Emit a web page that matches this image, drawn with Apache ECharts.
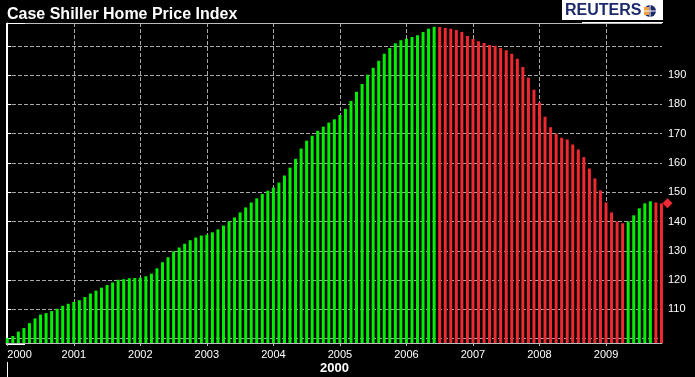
<!DOCTYPE html>
<html>
	<head>
		<meta charset="utf-8" />
		<script type="text/javascript" src="https://cdn.jsdelivr.net/npm/echarts@6/dist/echarts.min.js"></script>
		<title>Case Shiller Home Price Index</title>
		<style>
			html, body { margin: 0; padding: 0; background: #000; }
		</style>
	</head>
	<body>
		<div id="chartmain" style="width:695px; height: 377px;"></div>
		<script type="text/javascript">
// monthly index, Jan 2000 .. Nov 2009
var yearLabels = ['2000', '2001', '2002', '2003', '2004', '2005', '2006', '2007', '2008', '2009'];
var valuesBoom = [
  100.2, 100.9, 102.4, 103.6, 105.3, 106.9, 108.2, 108.7, 109.4, 110.2, 111.2, 111.9,
  112.5, 113.1, 114.2, 115.4, 116.4, 117.4, 118.3, 119.2, 120.1, 120.3, 120.6, 120.7,
  120.8, 121.3, 122.2, 124.0, 126.1, 127.8, 129.8, 131.1, 132.4, 133.6, 134.5, 135.2,
  135.5, 136.3, 137.3, 138.6, 140.0, 141.4, 143.1, 144.8, 146.5, 147.9, 149.4, 150.5,
  151.6, 153.3, 155.7, 158.4, 161.4, 164.9, 167.6, 169.3, 171.0, 172.4, 173.8, 174.9,
  176.4, 178.5, 181.2, 184.3, 187.0, 190.1, 192.5, 194.9, 197.3, 199.3, 200.9, 201.9,
  202.4, 203.0, 203.6, 204.7, 205.8, 206.5
];
var valuesBust = [
  206.4, 206.1, 205.8, 205.4, 204.7, 203.4,
  202.3, 201.6, 201.0, 200.3, 200.0, 199.3, 198.5, 197.3, 195.6, 192.8, 189.1, 185.0,
  180.6, 175.8, 172.2, 170.0, 168.6, 168.0, 166.3, 164.6, 162.0, 158.1, 154.7, 150.6,
  146.5, 143.1, 140.0, 139.4
];
var valuesRecent = [140.0, 142.1, 144.5, 146.2, 146.9, 146.5, 146.2];
var yTickValues = [100, 110, 120, 130, 140, 150, 160, 170, 180, 190, 200];
var yLabelValues = [110, 120, 130, 140, 150, 160, 170, 180, 190];

var values = valuesBoom.concat(valuesBust, valuesRecent);
var yearTicks = yearLabels.map(function (y, k) { return k * 12; });

var upColor = '#00f000';
var downColor = '#f02830';
var gridColor = '#a8a8a8';

var barData = values.map(function (v, i) {
  var up = i === 0 || v >= values[i - 1];
  return { value: [i, v], itemStyle: { color: up ? upColor : downColor } };
});

option = {
  backgroundColor: '#000',
  animation: false,
  textStyle: { fontFamily: 'Liberation Sans' },
  title: {
    text: 'Case Shiller Home Price Index',
    left: 2,
    top: 2,
    textStyle: { color: '#fff', fontSize: 16, fontWeight: 'bold', fontFamily: 'Liberation Sans' }
  },
  grid: { left: 6, right: 33, top: 23, bottom: 34 },
  xAxis: {
    type: 'value',
    min: -0.23,
    max: 118.1,
    axisLine: { show: true, lineStyle: { color: '#bcbcbc', width: 1 } },
    axisTick: { show: true, customValues: yearTicks, length: 3, lineStyle: { color: '#bcbcbc' } },
    axisLabel: {
      customValues: yearTicks,
      formatter: function (v) { return yearLabels[Math.round(v / 12)]; },
      color: '#fff',
      fontSize: 11,
      margin: 6,
      alignMinLabel: 'left'
    },
    splitLine: { show: true, lineStyle: { color: gridColor, type: [4, 2] } }
  },
  yAxis: {
    type: 'value',
    position: 'right',
    min: 98.5,
    max: 207.8,
    axisLine: { show: true, lineStyle: { color: '#fff', width: 1 } },
    axisTick: { show: true, customValues: yTickValues, length: 4, lineStyle: { color: '#fff' } },
    axisLabel: { customValues: yLabelValues, color: '#fff', fontSize: 11, margin: 6 },
    splitLine: { show: true, lineStyle: { color: gridColor, type: [4, 2] } }
  },
  series: [
    {
      type: 'bar',
      data: barData,
      barWidth: 3
    }
  ]
};

var myChart = echarts.init(document.getElementById('chartmain'));
myChart.setOption(option);

// decorations: frame, scroll markers, bottom caption, logo, last-value marker
var lastY = myChart.convertToPixel({ yAxisIndex: 0 }, values[values.length - 1]);
var graphics = [
  { type: 'line', shape: { x1: 6, y1: 23.5, x2: 662, y2: 23.5 }, style: { stroke: '#bcbcbc', lineWidth: 1 } },
  { type: 'line', shape: { x1: 6, y1: 23.5, x2: 25, y2: 23.5 }, style: { stroke: '#fff', lineWidth: 1 } },
  { type: 'line', shape: { x1: 582, y1: 22.5, x2: 663, y2: 22.5 }, style: { stroke: '#fff', lineWidth: 1 } },
  { type: 'line', shape: { x1: 6.5, y1: 23, x2: 6.5, y2: 344 }, style: { stroke: '#fff', lineWidth: 1 } },
  { type: 'line', shape: { x1: 6, y1: 344.5, x2: 25, y2: 344.5 }, style: { stroke: '#fff', lineWidth: 1 } },
  { type: 'line', shape: { x1: 7.5, y1: 362, x2: 7.5, y2: 377 }, style: { stroke: '#fff', lineWidth: 1 } },
  {
    type: 'text', left: 320, top: 362,
    style: { text: '2000', fill: '#fff', font: 'bold 13px "Liberation Sans"' }
  },
  { type: 'rect', shape: { x: 562, y: 0, width: 101, height: 20 }, style: { fill: '#fff' } },
  {
    type: 'text', left: 565, top: 3,
    style: { text: 'REUTERS', fill: '#1c2a6c', font: 'bold 16px "Liberation Sans"' }
  },
  { type: 'circle', shape: { cx: 650, cy: 11, r: 6 }, style: { fill: '#1c2a6c' } },
  { type: 'rect', shape: { x: 644, y: 7, width: 5, height: 8 }, style: { fill: '#f0a040' } },
  { type: 'line', shape: { x1: 650, y1: 5, x2: 650, y2: 17 }, style: { stroke: '#fff', lineWidth: 1 } },
  { type: 'line', shape: { x1: 644, y1: 11, x2: 656, y2: 11 }, style: { stroke: '#fff', lineWidth: 1 } },
  {
    type: 'polygon',
    shape: { points: [[667.5, lastY - 5], [672.5, lastY], [667.5, lastY + 5], [662.5, lastY]] },
    style: { fill: '#f02830' }
  }
];
myChart.setOption({ graphic: graphics });

window.addEventListener('resize', function () {
  myChart.resize();
});
		</script>
	</body>
</html>
